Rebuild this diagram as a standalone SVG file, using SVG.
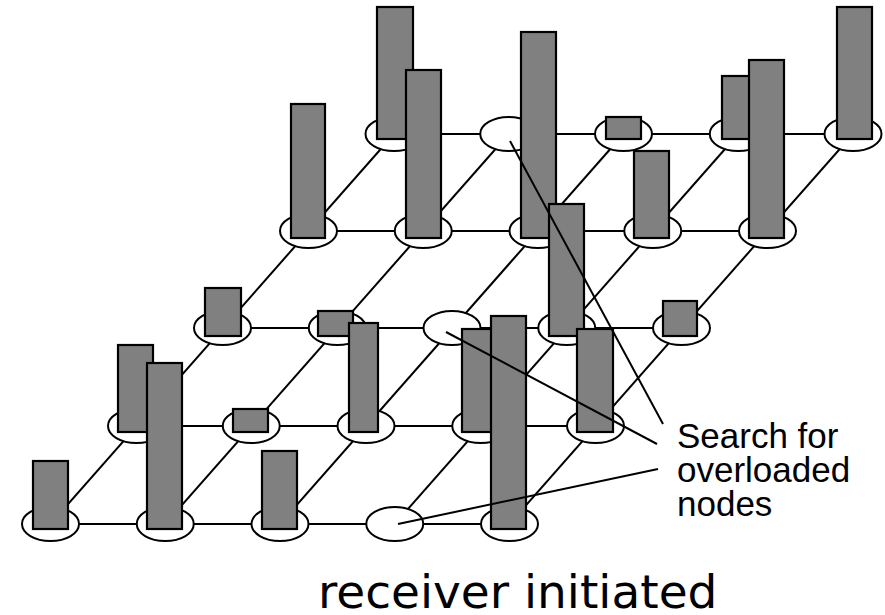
<svg xmlns="http://www.w3.org/2000/svg" width="885" height="615" viewBox="0 0 885 615">
<style>
.e{fill:#fff;stroke:#000;stroke-width:2}
.b{fill:#808080;stroke:#000;stroke-width:2.2}
.c line{stroke:#000;stroke-width:2}
.p line{stroke:#000;stroke-width:2}
.t{font-family:"Liberation Sans",Arial,sans-serif;font-size:35px;fill:#000}
.t2{font-family:"DejaVu Sans",Verdana,sans-serif;font-size:47px;fill:#000}
</style>
<rect width="885" height="615" fill="#fff"/>
<g id="connectors" class="c">
<line x1="394" y1="134" x2="853" y2="134"/>
<line x1="308.5" y1="231" x2="767.5" y2="231"/>
<line x1="222.5" y1="328" x2="681.5" y2="328"/>
<line x1="136.5" y1="426" x2="595.5" y2="426"/>
<line x1="50.5" y1="524" x2="509.5" y2="524"/>
<line x1="50.5" y1="524" x2="394" y2="134"/>
<line x1="165.25" y1="524" x2="508.75" y2="134"/>
<line x1="280" y1="524" x2="623.5" y2="134"/>
<line x1="394.75" y1="524" x2="738.25" y2="134"/>
<line x1="509.5" y1="524" x2="853" y2="134"/>
</g>
<g id="row1">
<ellipse id="n00" class="e" cx="394" cy="134" rx="28.5" ry="17"/>
<ellipse id="n01" class="e" cx="508.75" cy="134" rx="28.5" ry="17"/>
<ellipse id="n02" class="e" cx="623.5" cy="134" rx="28.5" ry="17"/>
<ellipse id="n03" class="e" cx="738.25" cy="134" rx="28.5" ry="17"/>
<ellipse id="n04" class="e" cx="853" cy="134" rx="28.5" ry="17"/>
<rect class="b" x="377" y="7" width="36" height="132"/>
<rect class="b" x="606" y="117" width="35" height="22"/>
<rect class="b" x="722" y="76" width="35" height="63"/>
<rect class="b" x="837" y="7" width="35" height="132"/>
</g>
<g id="row2">
<ellipse id="n10" class="e" cx="308.5" cy="231" rx="28.5" ry="17"/>
<ellipse id="n11" class="e" cx="423.25" cy="231" rx="28.5" ry="17"/>
<ellipse id="n12" class="e" cx="538" cy="231" rx="28.5" ry="17"/>
<ellipse id="n13" class="e" cx="652.75" cy="231" rx="28.5" ry="17"/>
<ellipse id="n14" class="e" cx="767.5" cy="231" rx="28.5" ry="17"/>
<rect class="b" x="291" y="104" width="34" height="134"/>
<rect class="b" x="406" y="70" width="35" height="168"/>
<rect class="b" x="521" y="32" width="35" height="206"/>
<rect class="b" x="634" y="151" width="35" height="87"/>
<rect class="b" x="749" y="60" width="35" height="178"/>
</g>
<g id="row3">
<ellipse id="n20" class="e" cx="222.5" cy="328" rx="28.5" ry="17"/>
<ellipse id="n21" class="e" cx="337.25" cy="328" rx="28.5" ry="17"/>
<ellipse id="n22" class="e" cx="452" cy="328" rx="28.5" ry="17"/>
<ellipse id="n23" class="e" cx="566.75" cy="328" rx="28.5" ry="17"/>
<ellipse id="n24" class="e" cx="681.5" cy="328" rx="28.5" ry="17"/>
<rect class="b" x="205" y="288" width="36" height="48"/>
<rect class="b" x="318" y="311" width="35" height="25"/>
<rect class="b" x="549" y="204" width="35" height="132"/>
<rect class="b" x="663" y="301" width="34" height="35"/>
</g>
<g id="row4">
<ellipse id="n30" class="e" cx="136.5" cy="426" rx="28.5" ry="17"/>
<ellipse id="n31" class="e" cx="251.25" cy="426" rx="28.5" ry="17"/>
<ellipse id="n32" class="e" cx="366" cy="426" rx="28.5" ry="17"/>
<ellipse id="n33" class="e" cx="480.75" cy="426" rx="28.5" ry="17"/>
<ellipse id="n34" class="e" cx="595.5" cy="426" rx="28.5" ry="17"/>
<rect class="b" x="118" y="345" width="35" height="87"/>
<rect class="b" x="233" y="409" width="35" height="23"/>
<rect class="b" x="349" y="323" width="29" height="109"/>
<rect class="b" x="462" y="329" width="35" height="103"/>
<rect class="b" x="577" y="329" width="36" height="103"/>
</g>
<g id="row5">
<ellipse id="n40" class="e" cx="50.5" cy="524" rx="28.5" ry="17"/>
<ellipse id="n41" class="e" cx="165.25" cy="524" rx="28.5" ry="17"/>
<ellipse id="n42" class="e" cx="280" cy="524" rx="28.5" ry="17"/>
<ellipse id="n43" class="e" cx="394.75" cy="524" rx="28.5" ry="17"/>
<ellipse id="n44" class="e" cx="509.5" cy="524" rx="28.5" ry="17"/>
<rect class="b" x="33" y="461" width="35" height="68"/>
<rect class="b" x="147" y="363" width="35" height="166"/>
<rect class="b" x="262" y="451" width="35" height="78"/>
<rect class="b" x="491" y="316" width="35" height="213"/>
</g>
<g id="pointers" class="p">
<line x1="510" y1="141" x2="663" y2="424"/>
<line x1="446" y1="332" x2="657" y2="444"/>
<line x1="398" y1="524" x2="658" y2="469"/>
</g>
<g id="label">
<text class="t" x="677" y="448">Search for</text>
<text class="t" x="677" y="482">overloaded</text>
<text class="t" x="677" y="516">nodes</text>
</g>
<text id="caption" class="t2" x="318" y="608">receiver initiated</text>
</svg>
